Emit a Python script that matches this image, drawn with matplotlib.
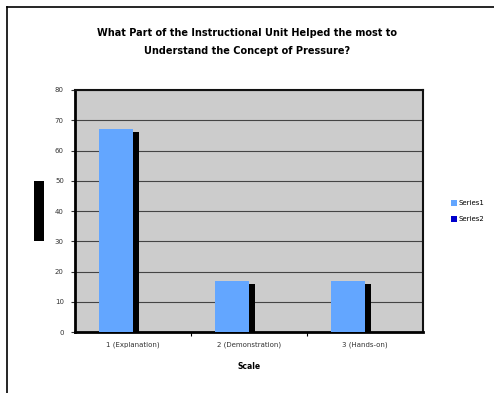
import matplotlib
matplotlib.use("Agg")
import matplotlib.pyplot as plt
from matplotlib.patches import Rectangle, Patch
from matplotlib.lines import Line2D
import numpy as np

# Survey results
categories = ["1 (Explanation)", "2 (Demonstration)", "3 (Hands-on)"]
series1 = [67, 17, 17]
series2 = [66, 16, 16]
series_names = ["Series1", "Series2"]
y_ticks = [0, 10, 20, 30, 40, 50, 60, 70, 80]

title = "What Part of the Instructional Unit Helped the most to\nUnderstand the Concept of Pressure?"
x_label = "Scale"

blue = "#63A6FF"
navy = "#0000CC"

fig = plt.figure(figsize=(4.94, 3.93), dpi=100)
ax = fig.add_axes([0.1518, 0.155, 0.7045, 0.616])
ax.set_facecolor("#CCCCCC")

x = np.arange(len(categories))
w = 0.29
# Second series sits slightly behind and to the right of the first
ax.bar(x - 0.235, series2, width=w, align="edge", color="black", zorder=2)
ax.bar(x - 0.29, series1, width=w, align="edge", color=blue, zorder=3)

ax.set_xlim(-0.5, 2.5)
ax.set_ylim(0, 80)
ax.set_yticks(y_ticks)
ax.set_yticklabels([str(v) for v in y_ticks])
ax.yaxis.grid(True, color="#444444", linewidth=0.8, zorder=1)
ax.set_axisbelow(True)

# Category labels centred, tick marks on the category boundaries
ax.set_xticks(x)
ax.set_xticklabels(categories)
ax.tick_params(axis="x", length=0, labelsize=5, colors="#333333", pad=7)
ax.set_xticks([0.5, 1.5], minor=True)
ax.tick_params(axis="x", which="minor", length=3, width=0.8, direction="out")
ax.tick_params(axis="y", length=3, width=0.8, labelsize=5, colors="#333333", pad=5)

for side in ["left", "bottom"]:
    ax.spines[side].set_linewidth(2.0)
for side in ["top", "right"]:
    ax.spines[side].set_linewidth(1.5)
    ax.spines[side].set_color("#111111")

ax.set_xlabel(x_label, fontsize=5.5, fontweight="bold", labelpad=10)

fig.text(0.5, 0.893, title, ha="center", va="center", fontsize=7,
         fontweight="bold", linespacing=2.1)

# Vertical axis title block
fig.add_artist(Rectangle((0.0688, 0.3868), 0.0202, 0.1527, transform=fig.transFigure,
                         facecolor="black", edgecolor="none"))

# Chart frame (top and left edges)
fig.add_artist(Line2D([7 / 494, 1.0], [1 - 7 / 393, 1 - 7 / 393], transform=fig.transFigure,
                      color="black", linewidth=1.2))
fig.add_artist(Line2D([7 / 494, 7 / 494], [0.0, 1 - 7 / 393], transform=fig.transFigure,
                      color="black", linewidth=1.2))

handles = [Patch(facecolor=blue, edgecolor="none"), Patch(facecolor=navy, edgecolor="none")]
fig.legend(handles, series_names, loc="center left", bbox_to_anchor=(0.905, 0.463),
           frameon=False, fontsize=5, handlelength=0.9, handleheight=0.9,
           handletextpad=0.2, labelspacing=1.4, borderpad=0)

fig.savefig("out.png", dpi=100)
